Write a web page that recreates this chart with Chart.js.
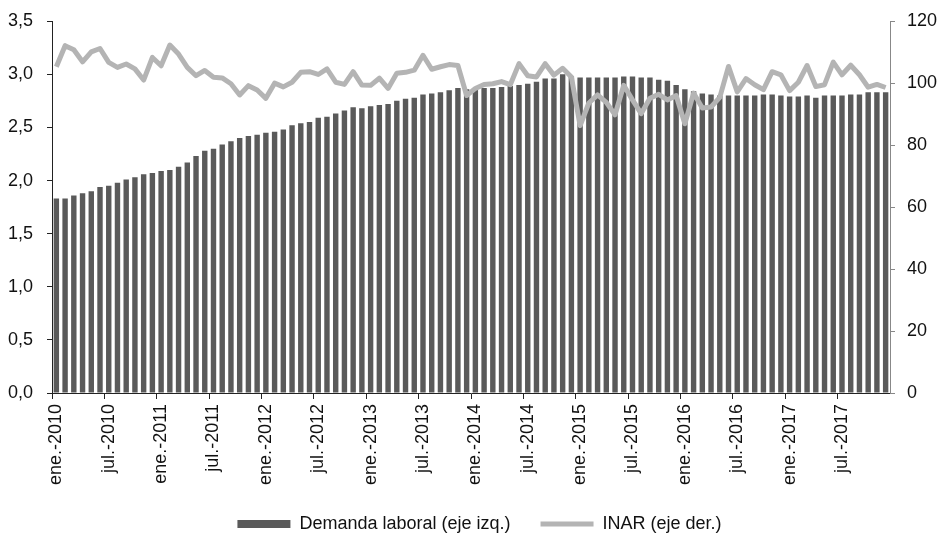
<!DOCTYPE html>
<html>
<head>
<meta charset="utf-8">
<script src="https://cdn.jsdelivr.net/npm/chart.js@4"></script>
<style>
  html, body { margin: 0; padding: 0; background: #fff; }
  #wrap { width: 941px; height: 534px; }
</style>
</head>
<body>
<div id="wrap"><canvas id="grafico"></canvas></div>
<script>
const anios = [2010, 2011, 2012, 2013, 2014, 2015, 2016, 2017];
const meses = ["ene.", "feb.", "mar.", "abr.", "may.", "jun.", "jul.", "ago.", "sept.", "oct.", "nov.", "dic."];

// Demanda laboral (eje izq.), ene-2010 .. dic-2017
const demanda = [
  1.83, 1.83, 1.86, 1.88, 1.90, 1.94, 1.95, 1.98, 2.01, 2.03, 2.06, 2.07,
  2.09, 2.10, 2.13, 2.17, 2.23, 2.28, 2.30, 2.34, 2.37, 2.40, 2.42, 2.43,
  2.45, 2.46, 2.48, 2.52, 2.54, 2.55, 2.59, 2.60, 2.63, 2.66, 2.69, 2.68,
  2.70, 2.71, 2.72, 2.75, 2.77, 2.78, 2.81, 2.82, 2.83, 2.85, 2.87, 2.86,
  2.87, 2.87, 2.87, 2.88, 2.89, 2.90, 2.91, 2.93, 2.96, 2.96, 3.00, 2.98,
  2.97, 2.97, 2.97, 2.97, 2.97, 2.98, 2.98, 2.97, 2.97, 2.95, 2.94, 2.90,
  2.86, 2.84, 2.82, 2.81, 2.80, 2.80, 2.80, 2.80, 2.80, 2.81, 2.81, 2.80,
  2.79, 2.79, 2.80, 2.78, 2.80, 2.80, 2.80, 2.81, 2.81, 2.83, 2.83, 2.83
];

// INAR (eje der.)
const inar = [
  105.3, 112.1, 110.8, 106.9, 110.1, 111.2, 106.7, 105.1, 106.2, 104.6, 101.0, 108.3,
  105.6, 112.3, 109.4, 105.1, 102.4, 104.1, 101.9, 101.7, 99.8, 96.2, 99.2, 97.8,
  95.1, 100.0, 98.8, 100.3, 103.5, 103.7, 102.8, 104.6, 100.3, 99.6, 103.7, 99.4,
  99.3, 101.6, 98.3, 103.2, 103.5, 104.2, 109.0, 104.5, 105.3, 106.0, 105.7, 96.0,
  98.3, 99.6, 99.8, 100.5, 99.5, 106.3, 102.4, 102.0, 106.3, 102.6, 104.8, 102.0,
  86.3, 93.6, 96.2, 93.8, 89.8, 99.3, 94.6, 90.2, 95.1, 96.4, 94.6, 96.0,
  86.9, 96.8, 92.0, 92.3, 95.4, 105.4, 97.2, 101.5, 99.5, 97.9, 103.7, 102.7,
  97.6, 100.3, 105.7, 98.9, 99.5, 106.8, 102.7, 105.8, 102.7, 98.7, 99.6, 98.6
];

const categorias = [];
anios.forEach((a) => {
  meses.forEach((m) => categorias.push(m + "-" + a));
});

const fuente = { family: "'Liberation Sans', Arial, sans-serif", size: 18 };
const fuenteEjeY = { ...fuente, lineHeight: 0.8 };
const colorTexto = "#111";

// the legend in the original sits a bit right of the centre
const moverLeyenda = {
  id: "moverLeyenda",
  afterLayout(chart) {
    chart.legend.left += 18;
  },
};

const ctx = document.getElementById("grafico").getContext("2d");
new Chart(ctx, {
  type: "bar",
  data: {
    labels: categorias,
    datasets: [
      {
        label: "Demanda laboral (eje izq.)",
        data: demanda,
        backgroundColor: "#5a5a5a",
        barPercentage: 0.62,
        categoryPercentage: 1,
        yAxisID: "y",
        order: 2,
      },
      {
        type: "line",
        label: "INAR (eje der.)",
        data: inar,
        borderColor: "#b4b4b4",
        backgroundColor: "#b4b4b4",
        borderWidth: 5,
        pointRadius: 0,
        tension: 0,
        borderJoinStyle: "round",
        yAxisID: "y1",
        order: 1,
      },
    ],
  },
  plugins: [moverLeyenda],
  options: {
    responsive: true,
    maintainAspectRatio: false,
    animation: false,
    layout: { padding: { top: 0, left: 0, right: 0, bottom: -9 } },
    plugins: {
      tooltip: { enabled: false },
      legend: {
        position: "bottom",
        labels: {
          font: fuente,
          color: colorTexto,
          usePointStyle: true,
          pointStyleWidth: 53,
          boxWidth: 53,
          boxHeight: 8,
          padding: 30,
          sort: (a, b) => a.datasetIndex - b.datasetIndex,
          generateLabels: (chart) => {
            const items = Chart.defaults.plugins.legend.labels.generateLabels(chart);
            items.forEach((it) => {
              if (it.datasetIndex === 0) {
                it.pointStyle = "rect";
                it.fillStyle = "#5a5a5a";
                it.strokeStyle = "#5a5a5a";
                it.lineWidth = 0;
              } else {
                it.pointStyle = "line";
                it.strokeStyle = "#b4b4b4";
                it.lineWidth = 5;
              }
            });
            return items;
          },
        },
      },
    },
    scales: {
      x: {
        offset: true,
        border: { display: true, color: "#222", width: 1 },
        grid: {
          offset: true,
          drawOnChartArea: false,
          drawTicks: true,
          tickLength: 6,
          tickColor: (c) => (c.index % 6 === 0 ? "#222" : "rgba(0,0,0,0)"),
        },
        ticks: {
          autoSkip: false,
          minRotation: 90,
          maxRotation: 90,
          padding: 5,
          font: fuente,
          color: colorTexto,
          callback: function (value, index) {
            return index % 6 === 0 ? this.getLabelForValue(value) : "";
          },
        },
        afterFit: (s) => {
          s.height = 92;
        },
      },
      y: {
        position: "left",
        min: 0,
        max: 3.5,
        border: { display: true, color: "#222", width: 1 },
        grid: { drawOnChartArea: false, tickLength: 5, tickColor: "#222" },
        ticks: {
          stepSize: 0.5,
          padding: 14,
          font: fuenteEjeY,
          color: colorTexto,
          callback: (v) => v.toFixed(1).replace(".", ","),
        },
        afterFit: (s) => {
          s.width = 52;
        },
      },
      y1: {
        position: "right",
        min: 0,
        max: 120,
        border: { display: true, color: "#888", width: 1 },
        grid: { drawOnChartArea: false, tickLength: 5, tickColor: "#888" },
        ticks: {
          stepSize: 20,
          padding: 12,
          font: fuenteEjeY,
          color: colorTexto,
        },
        afterFit: (s) => {
          s.width = 51;
        },
      },
    },
  },
});
</script>
</body>
</html>
